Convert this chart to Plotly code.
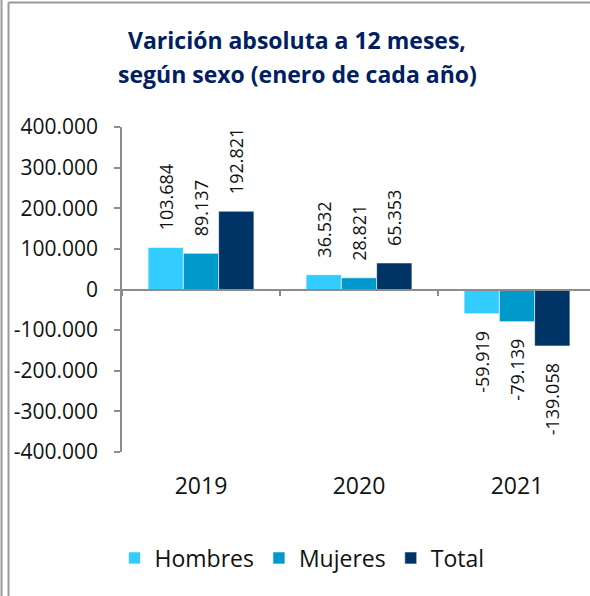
import plotly.graph_objects as go

years = ["2019", "2020", "2021"]
hombres = [103684, 36532, -59919]
mujeres = [89137, 28821, -79139]
total = [192821, 65353, -139058]
series_names = ["Hombres", "Mujeres", "Total"]
series_colors = ["#33CCFF", "#0099CC", "#003366"]
ytick_vals = [400000, 300000, 200000, 100000, 0, -100000, -200000, -300000, -400000]
ytick_text = ["400.000", "300.000", "200.000", "100.000", "0",
              "-100.000", "-200.000", "-300.000", "-400.000"]
title_lines = ["Varición absoluta a 12 meses,", "según sexo (enero de cada año)"]

W, H = 590, 596
L, R, T, B = 122, 0, 127, 144
pw, ph = W - L - R, H - T - B
FONT = "Open Sans, sans-serif"


def px_x(p):
    return (p - L) / pw


def px_y(p):
    return (H - B - p) / ph


def fmt(v):
    s = f"{v:,}".replace(",", ".")
    pad = "\u00a0" * 3
    return pad + s if v >= 0 else s + pad


fig = go.Figure()
for name, vals, col in zip(series_names, [hombres, mujeres, total], series_colors):
    fig.add_trace(go.Bar(
        x=years, y=vals, name=name,
        marker=dict(color=col, line=dict(color="white", width=0.6)),
        text=[fmt(v) for v in vals],
        textposition="outside", textangle=-90, constraintext="none",
        textfont=dict(family=FONT, size=18, color="#111111"),
        cliponaxis=False,
    ))

# invisible helper trace for the zero-line axis with boundary ticks
fig.add_trace(go.Scatter(x=years, y=[0, 0, 0], xaxis="x2", mode="none",
                         showlegend=False, hoverinfo="skip"))

fig.update_layout(
    width=W, height=H, autosize=False,
    margin=dict(l=L, r=R, t=T, b=B, pad=0),
    paper_bgcolor="white", plot_bgcolor="white",
    barmode="group", bargap=0.33, bargroupgap=0,
    font=dict(family=FONT, color="#111111"),
    xaxis=dict(type="category", range=[-0.5, 2.5 - 6 / 158],
               showline=False, showgrid=False, ticks="", zeroline=False,
               tickfont=dict(size=23, color="#111111"), ticklabelstandoff=18),
    xaxis2=dict(type="category", overlaying="x", matches="x", anchor="free",
                position=0.5, side="bottom", showline=True, linecolor="#8C8C8C",
                linewidth=1.5, ticks="outside", tickson="boundaries", ticklen=6,
                tickcolor="#8C8C8C", tickwidth=1.5, showticklabels=False,
                showgrid=False, zeroline=False),
    yaxis=dict(range=[-400000, 400000], tickvals=ytick_vals, ticktext=ytick_text,
               showline=True, linecolor="#8C8C8C", linewidth=1.5,
               ticks="outside", ticklen=6, tickcolor="#8C8C8C", tickwidth=1.5,
               showgrid=False, zeroline=False, ticklabelstandoff=12,
               tickfont=dict(size=21, color="#111111")),
    legend=dict(orientation="h", x=px_x(302), xanchor="center",
                y=px_y(558), yanchor="middle",
                font=dict(size=23, color="#111111"),
                itemwidth=30, traceorder="normal"),
    showlegend=True,
)

annotations = []
for line, ypx in zip(title_lines, [40, 74]):
    annotations.append(dict(
        text=f"<b>{line}</b>", xref="paper", yref="paper",
        x=px_x(297), y=px_y(ypx), xanchor="center", yanchor="middle",
        showarrow=False, font=dict(family=FONT, size=23, color="#002060")))
fig.update_layout(annotations=annotations)

shapes = [
    dict(type="line", xref="paper", yref="paper",
         x0=px_x(1.5), x1=px_x(1.5), y0=px_y(0), y1=px_y(H),
         line=dict(color="#9A9A9A", width=2)),
    dict(type="line", xref="paper", yref="paper",
         x0=px_x(8.5), x1=px_x(8.5), y0=px_y(2.5), y1=px_y(H),
         line=dict(color="#9A9A9A", width=2)),
    dict(type="line", xref="paper", yref="paper",
         x0=px_x(8.5), x1=px_x(W), y0=px_y(2.5), y1=px_y(2.5),
         line=dict(color="#9A9A9A", width=2)),
]
fig.update_layout(shapes=shapes)

fig.write_html("out.html",
               config={"displayModeBar": False},
               post_script="document.body.style.margin='0';"
                           "document.body.style.overflow='hidden';")
